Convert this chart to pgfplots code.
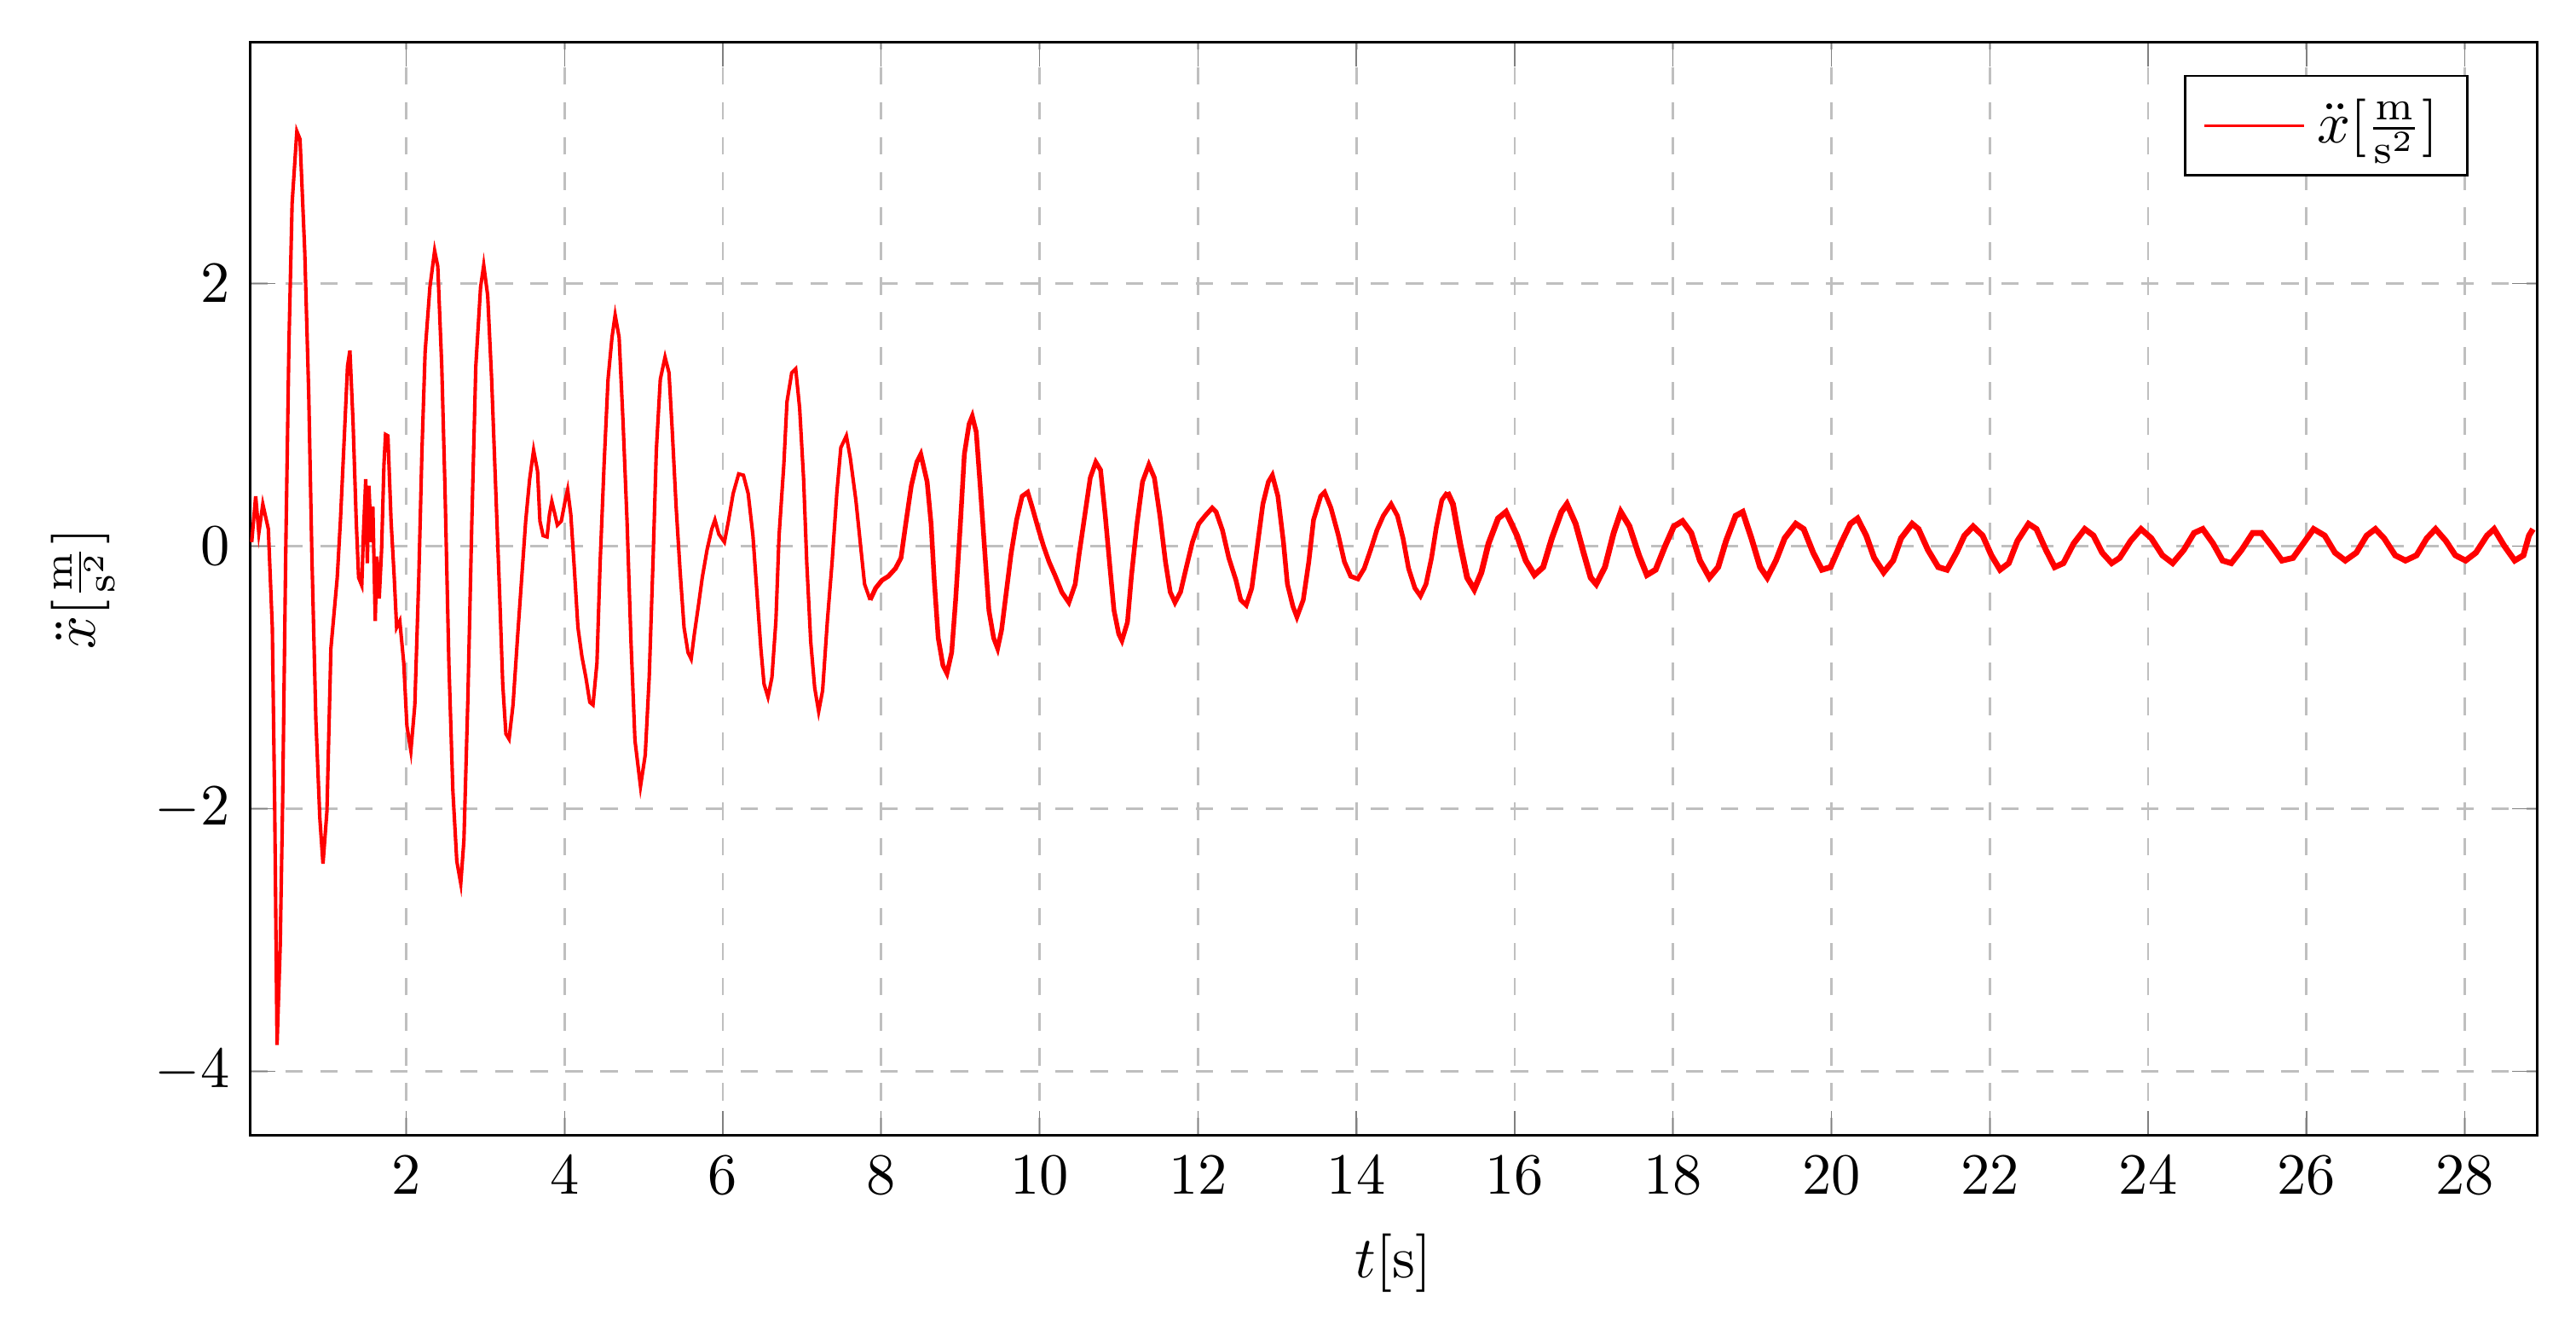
\documentclass[border=0pt]{standalone}
\usepackage{pgfplots}
\pgfplotsset{compat=1.18}
\begin{document}
\begin{tikzpicture}
\begin{axis}[
  scale only axis,
  width=391.8pt, height=187.3pt,
  xmin=0.03, xmax=28.91,
  ymin=-4.49, ymax=3.84,
  xtick={2,4,...,28},
  ytick={-4,-2,0,2},
  grid=major,
  major grid style={gray!50, dashed},
  xlabel={$t[\mathrm{s}]$},
  ylabel={$\ddot{x}[\frac{\mathrm{m}}{\mathrm{s}^2}]$},
  legend pos=north east,
  legend cell align=left,
]
\addlegendimage{red, line width=0.5pt}
\addlegendentry{$\ddot{x}[\frac{\mathrm{m}}{\mathrm{s}^2}]$}
\addplot[red, line width=0.6pt, forget plot] coordinates {
(0.05,0.03) (0.10,0.38) (0.14,0.10) (0.19,0.32) (0.26,0.13) (0.31,-0.62) (0.34,-1.97) (0.37,-3.80)
(0.41,-3.04) (0.44,-1.97) (0.48,-0.03) (0.52,1.54) (0.56,2.61) (0.62,3.16) (0.66,3.10) (0.72,2.24)
(0.77,1.16) (0.81,-0.08) (0.86,-1.32) (0.91,-2.07) (0.95,-2.42) (1.00,-2.02) (1.05,-0.78) (1.13,-0.24)
(1.17,0.19) (1.22,0.84) (1.26,1.37) (1.29,1.49) (1.33,0.94) (1.37,0.19) (1.40,-0.24) (1.44,-0.30)
(1.46,0.08) (1.49,0.51) (1.51,-0.13) (1.53,0.46) (1.56,0.03) (1.58,0.30) (1.61,-0.57) (1.63,-0.08)
(1.66,-0.40) (1.69,-0.03) (1.72,0.62) (1.74,0.85) (1.77,0.84) (1.81,0.19) (1.85,-0.24) (1.88,-0.62)
(1.92,-0.57) (1.97,-0.89) (2.01,-1.37) (2.06,-1.56) (2.11,-1.21) (2.16,-0.24) (2.20,0.73) (2.24,1.48)
(2.30,1.97) (2.36,2.25) (2.40,2.13) (2.45,1.37) (2.49,0.46) (2.54,-0.89) (2.59,-1.86) (2.64,-2.40)
(2.69,-2.57) (2.73,-2.24) (2.78,-1.16) (2.83,0.19) (2.88,1.37) (2.94,1.97) (2.98,2.14) (3.03,1.91)
(3.08,1.27) (3.13,0.46) (3.18,-0.35) (3.22,-1.05) (3.26,-1.43) (3.30,-1.47) (3.35,-1.21) (3.41,-0.67)
(3.46,-0.24) (3.51,0.19) (3.56,0.51) (3.61,0.73) (3.66,0.57) (3.69,0.19) (3.73,0.08) (3.78,0.07)
(3.81,0.24) (3.84,0.34) (3.88,0.24) (3.91,0.16) (3.96,0.19) (4.01,0.35) (4.04,0.43) (4.08,0.24)
(4.12,-0.13) (4.17,-0.62) (4.22,-0.84) (4.27,-1.00) (4.32,-1.19) (4.36,-1.21) (4.41,-0.89) (4.45,-0.13)
(4.50,0.62) (4.55,1.27) (4.60,1.59) (4.64,1.76) (4.69,1.59) (4.74,0.94) (4.79,0.19) (4.84,-0.73)
(4.89,-1.48) (4.96,-1.83) (5.02,-1.59) (5.07,-1.00) (5.12,-0.08) (5.16,0.73) (5.21,1.27) (5.27,1.44)
(5.32,1.32) (5.36,0.89) (5.41,0.30) (5.46,-0.19) (5.51,-0.62) (5.56,-0.81) (5.60,-0.86) (5.64,-0.67)
(5.69,-0.46) (5.74,-0.24) (5.80,-0.03) (5.86,0.13) (5.90,0.20) (5.95,0.09) (6.02,0.03) (6.07,0.19)
(6.13,0.40) (6.20,0.55) (6.26,0.54) (6.32,0.40) (6.38,0.08) (6.43,-0.35) (6.48,-0.78) (6.52,-1.05)
(6.57,-1.15) (6.62,-1.00) (6.67,-0.57) (6.71,0.08) (6.77,0.62) (6.81,1.10) (6.87,1.32) (6.92,1.35)
(6.97,1.05) (7.02,0.51) (7.06,-0.13) (7.11,-0.73) (7.16,-1.08) (7.21,-1.26) (7.26,-1.10) (7.32,-0.57)
(7.38,-0.12) (7.44,0.41) (7.49,0.75) (7.56,0.84) (7.61,0.67) (7.68,0.35) (7.74,0.00) (7.79,-0.29)
(7.86,-0.41)
};
\addplot[red, line width=0.8pt, forget plot] coordinates {
(7.86,-0.41) (7.93,-0.32) (8.01,-0.26) (8.09,-0.23) (8.18,-0.17) (8.25,-0.09) (8.31,0.17) (8.38,0.46)
(8.45,0.64) (8.50,0.70) (8.58,0.49) (8.63,0.17) (8.67,-0.26) (8.72,-0.70) (8.78,-0.91) (8.83,-0.97)
(8.89,-0.81) (8.94,-0.41) (9.00,0.17) (9.05,0.70) (9.11,0.93) (9.15,0.99) (9.20,0.87) (9.25,0.46)
(9.31,-0.06) (9.36,-0.49) (9.42,-0.70) (9.47,-0.78) (9.52,-0.64) (9.58,-0.35) (9.64,-0.06) (9.71,0.20)
(9.78,0.38) (9.85,0.41) (9.91,0.29) (9.98,0.14) (10.05,0.00) (10.12,-0.12) (10.20,-0.23) (10.28,-0.35)
(10.37,-0.43) (10.45,-0.29) (10.50,-0.06) (10.57,0.23) (10.64,0.52) (10.71,0.64) (10.77,0.58) (10.83,0.23)
(10.89,-0.17) (10.94,-0.49) (11.00,-0.67) (11.04,-0.72) (11.11,-0.58) (11.16,-0.23) (11.23,0.17) (11.30,0.49)
(11.38,0.62) (11.45,0.52) (11.52,0.23) (11.59,-0.12) (11.65,-0.35) (11.71,-0.43) (11.78,-0.35) (11.85,-0.17)
(11.93,0.03) (12.01,0.17) (12.09,0.23) (12.18,0.29) (12.23,0.26) (12.31,0.12) (12.39,-0.09) (12.48,-0.26)
(12.54,-0.41) (12.61,-0.45) (12.68,-0.32) (12.75,0.00) (12.82,0.32) (12.89,0.49) (12.94,0.54) (13.01,0.38)
(13.08,0.03) (13.13,-0.29) (13.20,-0.46) (13.25,-0.54) (13.33,-0.41) (13.40,-0.12) (13.46,0.20) (13.55,0.38)
(13.60,0.41) (13.68,0.29) (13.77,0.09) (13.85,-0.12) (13.93,-0.23) (14.02,-0.25) (14.10,-0.17) (14.18,-0.03)
(14.26,0.12) (14.34,0.23) (14.44,0.32) (14.52,0.23) (14.59,0.06) (14.66,-0.17) (14.74,-0.32) (14.81,-0.38)
(14.88,-0.29) (14.95,-0.09) (15.01,0.14) (15.08,0.35) (15.15,0.41)
};
\addplot[red, line width=1.0pt, forget plot] coordinates {
(15.15,0.41)
(15.22,0.32) (15.31,0.02) (15.40,-0.24) (15.49,-0.33) (15.58,-0.20) (15.67,0.02) (15.79,0.21) (15.89,0.26)
(16.03,0.08) (16.14,-0.11) (16.25,-0.22) (16.36,-0.16) (16.47,0.06) (16.59,0.26) (16.66,0.32) (16.77,0.17)
(16.87,-0.05) (16.96,-0.24) (17.03,-0.29) (17.14,-0.16) (17.25,0.10) (17.34,0.26) (17.45,0.15) (17.57,-0.07)
(17.67,-0.22) (17.78,-0.18) (17.90,0.00) (18.01,0.15) (18.12,0.19) (18.23,0.10) (18.34,-0.11) (18.46,-0.24)
(18.57,-0.16) (18.67,0.04) (18.79,0.23) (18.88,0.26) (18.99,0.06) (19.10,-0.16) (19.19,-0.24) (19.30,-0.11)
(19.41,0.06) (19.55,0.17) (19.65,0.13) (19.77,-0.05) (19.88,-0.18) (19.99,-0.16) (20.12,0.02) (20.24,0.17)
(20.33,0.21) (20.44,0.08) (20.54,-0.09) (20.66,-0.20) (20.78,-0.11) (20.88,0.06) (21.02,0.17) (21.10,0.13)
(21.22,-0.03) (21.35,-0.16) (21.46,-0.18) (21.58,-0.05) (21.68,0.08) (21.79,0.15) (21.91,0.08) (22.02,-0.07)
(22.13,-0.18) (22.24,-0.13) (22.35,0.04) (22.49,0.17) (22.59,0.13) (22.71,-0.03) (22.82,-0.16) (22.93,-0.13)
(23.06,0.02) (23.20,0.13) (23.31,0.08) (23.42,-0.05) (23.54,-0.13) (23.64,-0.09) (23.78,0.04) (23.91,0.13)
(24.04,0.06) (24.18,-0.07) (24.31,-0.13) (24.45,-0.03) (24.58,0.10) (24.69,0.13) (24.82,0.02) (24.94,-0.11)
(25.05,-0.13) (25.18,-0.03) (25.32,0.10) (25.43,0.10) (25.56,0.00) (25.69,-0.11) (25.83,-0.09) (25.96,0.02)
(26.09,0.13) (26.23,0.08) (26.36,-0.05) (26.49,-0.11) (26.63,-0.05) (26.76,0.08) (26.87,0.13) (26.98,0.06)
(27.12,-0.07) (27.25,-0.11) (27.39,-0.07) (27.52,0.06) (27.63,0.13) (27.76,0.04) (27.88,-0.07) (28.01,-0.11)
(28.14,-0.05) (28.28,0.08) (28.37,0.13) (28.50,0.00) (28.63,-0.11) (28.74,-0.07) (28.81,0.08) (28.86,0.13)
};
\end{axis}
\path ([shift={(-5.4pt,-2.2pt)}]current bounding box.south west) ([shift={(6.5pt,7pt)}]current bounding box.north east);
\end{tikzpicture}
\end{document}
